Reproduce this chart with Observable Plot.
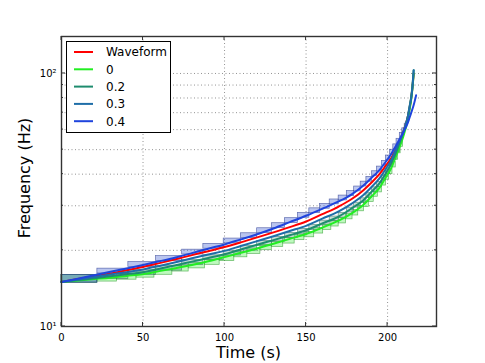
<!DOCTYPE html>
<html><head><meta charset="utf-8">
<script src="https://cdn.jsdelivr.net/npm/d3@7"></script>
<script src="https://cdn.jsdelivr.net/npm/@observablehq/plot@0.6"></script>
<style>
body{margin:0;background:#fff;}
svg{font-family:"DejaVu Sans",sans-serif;}
</style>
</head><body><div id="chart"></div>
<script>
// ---- data ----
const time = [0,10,20,30,40,50,60,70,80,90,100,110,120,130,140,150,160,170,178,185,190,195,199,202,205,207.5,209.5,211,212.5,213.5,214.5,215.3,216];
const waveform = [15.0,15.4,15.8,16.2,16.7,17.2,17.8,18.45,19.15,19.85,20.6,21.5,22.5,23.55,24.7,26.0,27.8,29.8,31.9,34.5,37.0,40.0,43.3,46.0,50.0,54.0,58.5,62.5,68,73,80,89,100];
const s0  = [15.0,15.2,15.4,15.6,15.85,16.1,16.55,17.0,17.5,18.1,18.8,19.55,20.35,21.25,22.2,23.2,24.6,26.2,28.0,30.2,32.6,35.3,39.0,42.0,46.8,51.5,56,60.5,66,72,79,88,100];
const s02 = [15.0,15.25,15.5,15.8,16.1,16.4,16.9,17.45,18.05,18.65,19.3,20.15,21.05,21.95,22.95,24.0,25.55,27.2,29.3,31.5,34.0,36.8,40.4,43.8,48.3,53.5,57.8,62.2,68,74,81,90,103];
const s03 = [15.0,15.35,15.7,16.05,16.4,16.8,17.35,17.95,18.6,19.25,19.9,20.8,21.75,22.75,23.85,25.0,26.7,28.5,30.6,33.0,35.5,38.5,42.0,45.2,49.8,54.5,58.5,62.5,68,74,80,89,103];
const time04 = [0,10,20,30,40,50,60,70,80,90,100,110,120,130,140,150,160,170,178,185,190,195,199,202,205,207.5,209.5,211,212.5,213.5,214.5,215.3,216,217.5];
const s04 = [15.0,15.45,15.95,16.45,16.95,17.5,18.1,18.75,19.5,20.3,21.1,22.1,23.15,24.4,25.85,27.4,29.2,31.2,33.3,36.0,38.6,41.5,44.9,47.8,51.6,55.2,58.2,61,64,67,70,72.5,75,82];

const seriesNames  = ["Waveform","0","0.2","0.3","0.4"];
const seriesColors = ["#ff0000","#22ee22","#1e8c6e","#1f6ea8","#1f44dd"];

// time-frequency boxes, series 0.4 (blue)
const blueT0 = [0,22,41,58,74,87,99.5,110,120,129,137,145,152,158.5,164.5,170,175,179.5,183.5,187,190.5,193.5,196.5,199,201.5,203.5,205.5,207.5,209,210.5];
const blueT1 = [22,41,58,74,87,99.5,110,120,129,137,145,152,158.5,164.5,170,175,179.5,183.5,187,190.5,193.5,196.5,199,201.5,203.5,205.5,207.5,209,210.5,212];
const blueLo = [14.9,16.2,17.2,18.15,19.25,20.3,21.3,22.35,23.4,24.5,25.65,26.9,28.05,29.2,30.4,31.5,32.8,34.2,35.75,37.35,39.3,41.0,43.2,45.35,47.8,50.2,52.8,55.75,58.1,60.6];
const blueHi = [16.0,16.93,17.97,18.97,20.12,21.21,22.26,23.36,24.45,25.6,26.8,28.11,29.31,30.51,31.77,32.92,34.28,35.74,37.36,39.03,41.07,42.85,45.14,47.39,49.95,52.46,55.18,58.26,60.71,63.33];
// boxes, series 0.2 (teal)
const tealT0 = [0,22,41,58,74,87,99.5,110,120,129,137,145,152,158.5,164.5,170,175,179.5,183.5,187,190.5,193.5,196.5,199,201.5,203.5,205.5];
const tealT1 = [22,41,58,74,87,99.5,110,120,129,137,145,152,158.5,164.5,170,175,179.5,183.5,187,190.5,193.5,196.5,199,201.5,203.5,205.5,207.5];
const tealLo = [14.9,15.4,15.97,16.63,17.51,18.29,19.08,19.95,20.84,21.64,22.42,23.25,24.07,25.07,26.03,26.93,28.22,29.52,30.72,32.18,33.94,35.6,37.77,40.0,42.8,45.59,48.85];
const tealHi = [16.0,16.1,16.69,17.38,18.3,19.11,19.94,20.85,21.78,22.61,23.43,24.3,25.15,26.2,27.2,28.14,29.49,30.85,32.1,33.63,35.47,37.2,39.47,41.8,44.73,47.64,51.05];
// boxes, series 0 (green)
const greenT0 = [0,22,34,46,57,68,78,88,97,106,114,122,129,136,143,149,155,160.5,165.5,170,174.5,178.5,182,185.5,188.5,191.5,194,196.5,199,201,203,205,206.5,208];
const greenT1 = [22,34,46,57,68,78,88,97,106,114,122,129,136,143,149,155,160.5,165.5,170,174.5,178.5,182,185.5,188.5,191.5,194,196.5,199,201,203,205,206.5,208,209.5];
const greenLo = [14.9,15.05,15.31,15.6,16.01,16.49,16.97,17.53,18.14,18.77,19.37,20.02,20.63,21.27,21.94,22.52,23.3,24.06,24.84,25.55,26.52,27.46,28.53,29.68,31.08,32.57,33.89,36.06,38.03,39.98,42.51,45.63,48.36,51.29];
const greenHi = [16.0,15.8,16.07,16.38,16.81,17.31,17.81,18.4,19.04,19.7,20.34,21.02,21.66,22.34,23.03,23.65,24.47,25.27,26.09,26.82,27.85,28.83,29.95,31.16,32.64,34.19,35.59,37.86,39.93,41.97,44.64,47.91,50.78,53.85];

const xTicks = [0,50,100,150,200];
const xGrid = [50,100,150,200];
const yMajor = [10,100];
const yMajorLabels = ["10¹","10²"];
const yMinor = [20,30,40,50,60,70,80,90];
const xLabel = "Time (s)";
const yLabel = "Frequency (Hz)";

// ---- build tables ----
const lineRows = (ts, fs) => ts.map((t, i) => ({t, f: fs[i]}));
const seriesData = [
  lineRows(time, waveform), lineRows(time, s0), lineRows(time, s02), lineRows(time, s03), lineRows(time04, s04)
];
const boxRows = (t0, t1, lo, hi) => t0.map((d, i) => ({t0: d, t1: t1[i], lo: lo[i], hi: hi[i]}));
const greenBoxes = boxRows(greenT0, greenT1, greenLo, greenHi);
const tealBoxes = boxRows(tealT0, tealT1, tealLo, tealHi);
const blueBoxes = boxRows(blueT0, blueT1, blueLo, blueHi);

const boxMark = (data, color, edge, op) => Plot.rect(data, {
  x1: "t0", x2: "t1", y1: "lo", y2: "hi",
  fill: color, fillOpacity: op, stroke: edge, strokeOpacity: 0.7, strokeWidth: 0.7
});

const plot = Plot.plot({
  width: 485, height: 363,
  marginLeft: 61, marginRight: 49, marginTop: 36, marginBottom: 37,
  style: {fontFamily: "DejaVu Sans, sans-serif", fontSize: "10px", background: "white", color: "black"},
  x: {domain: [0, 230]},
  y: {type: "log", domain: [10, 140]},
  marks: [
    Plot.gridX(xGrid, {stroke: "#777", strokeOpacity: 1, strokeWidth: 0.8, strokeDasharray: "1,2.5"}),
    Plot.gridY(yMinor.concat([100]), {stroke: "#777", strokeOpacity: 1, strokeWidth: 0.8, strokeDasharray: "1,2.5"}),
    boxMark(greenBoxes, "#44ee44", "#2a9a2a", 0.35),
    boxMark(tealBoxes, "#3a8a70", "#2a6a55", 0.28),
    boxMark(blueBoxes, "#3a5ad0", "#2a3a90", 0.35),
    ...seriesData.map((rows, i) => Plot.line(rows, {x: "t", y: "f", stroke: seriesColors[i], strokeWidth: 2, curve: "monotone-x"})),
    Plot.frame({stroke: "#333", strokeWidth: 1.4}),
    Plot.axisX({ticks: xTicks, tickSize: 0, tickPadding: 7, fontSize: 10, label: null}),
    Plot.axisY({ticks: yMajor, tickSize: 0, tickPadding: 5, fontSize: 10, label: null,
      tickFormat: d => yMajorLabels[yMajor.indexOf(d)]})
  ]
});
document.getElementById("chart").appendChild(plot);

// ---- inward ticks, axis labels, legend ----
const svg = d3.select(plot);
const xs = plot.scale("x"), ys = plot.scale("y");
const [xL, xR] = xs.range, [yB, yT] = ys.range;
const tg = svg.append("g").attr("stroke", "#333").attr("stroke-width", 1);
xTicks.forEach(v => {
  const px = xs.apply(v);
  tg.append("line").attr("x1", px).attr("x2", px).attr("y1", yB).attr("y2", yB - 4);
  tg.append("line").attr("x1", px).attr("x2", px).attr("y1", yT).attr("y2", yT + 4);
});
yMajor.concat(yMinor).forEach(v => {
  const py = ys.apply(v), len = yMajor.includes(v) ? 4 : 2;
  tg.append("line").attr("x1", xL).attr("x2", xL + len).attr("y1", py).attr("y2", py);
  tg.append("line").attr("x1", xR).attr("x2", xR - len).attr("y1", py).attr("y2", py);
});
svg.append("text").attr("x", (xL + xR) / 2).attr("y", 358).attr("text-anchor", "middle")
  .attr("font-size", 16).attr("fill", "black").text(xLabel);
svg.append("text").attr("transform", `translate(30,${(yB + yT) / 2 - 3}) rotate(-90)`).attr("text-anchor", "middle")
  .attr("font-size", 16).attr("fill", "black").text(yLabel);

const lg = svg.append("g").attr("text-anchor", "start");
lg.append("rect").attr("x", 66.5).attr("y", 41.5).attr("width", 104).attr("height", 91)
  .attr("fill", "white").attr("stroke", "black").attr("stroke-width", 1);
seriesNames.forEach((name, i) => {
  const cy = 52 + i * 17.3;
  lg.append("line").attr("x1", 74).attr("x2", 93).attr("y1", cy).attr("y2", cy)
    .attr("stroke", seriesColors[i]).attr("stroke-width", 2);
  lg.append("text").attr("x", 106).attr("y", cy).attr("dy", "0.36em").attr("font-size", 12)
    .attr("text-anchor", "start").attr("fill", "black").text(name);
});
</script>
</body></html>
